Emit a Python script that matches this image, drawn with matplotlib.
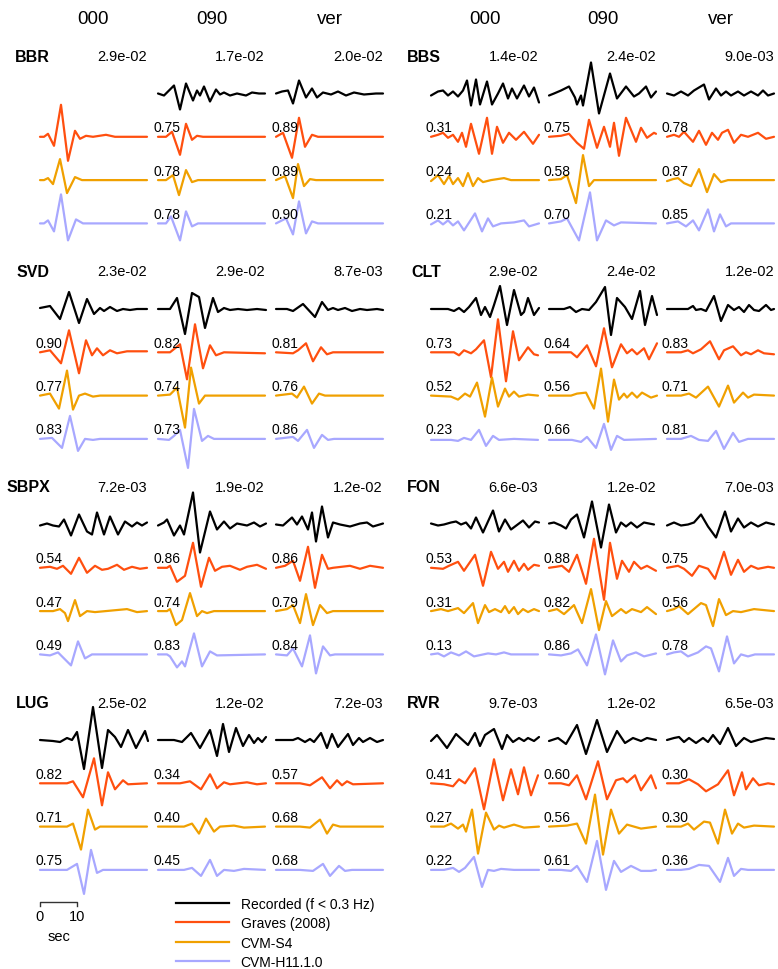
import matplotlib
matplotlib.use('Agg')
import matplotlib.pyplot as plt
from matplotlib.lines import Line2D

plt.rcParams['font.family'] = ['Liberation Sans', 'DejaVu Sans']

DT = 10 / 37.0
NSAMP = 107

COMPONENTS = ['000', '090', 'ver']
MODELS = ['Recorded (f < 0.3 Hz)', 'Graves (2008)', 'CVM-S4', 'CVM-H11.1.0']
COLORS = ['#000000', '#ff4f0f', '#f0a000', '#a8a8ff']

STATIONS = ['BBR', 'BBS', 'SVD', 'CLT', 'SBPX', 'FON', 'LUG', 'RVR']

# peak amplitude of recorded trace per component (000, 090, ver)
PEAKS = {
    'BBR': [2.9e-02, 1.7e-02, 2.0e-02],
    'BBS': [1.4e-02, 2.4e-02, 9.0e-03],
    'SVD': [2.3e-02, 2.9e-02, 8.7e-03],
    'CLT': [2.9e-02, 2.4e-02, 1.2e-02],
    'SBPX': [7.2e-03, 1.9e-02, 1.2e-02],
    'FON': [6.6e-03, 1.2e-02, 7.0e-03],
    'LUG': [2.5e-02, 1.2e-02, 7.2e-03],
    'RVR': [9.7e-03, 1.2e-02, 6.5e-03],
}

# correlation with the record: per component, [Graves, CVM-S4, CVM-H]
CORR = {
    'BBR': [None, [0.75, 0.78, 0.78], [0.89, 0.89, 0.90]],
    'BBS': [[0.31, 0.24, 0.21], [0.75, 0.58, 0.70], [0.78, 0.87, 0.85]],
    'SVD': [[0.90, 0.77, 0.83], [0.82, 0.74, 0.73], [0.81, 0.76, 0.86]],
    'CLT': [[0.73, 0.52, 0.23], [0.64, 0.56, 0.66], [0.83, 0.71, 0.81]],
    'SBPX': [[0.54, 0.47, 0.49], [0.86, 0.74, 0.83], [0.86, 0.79, 0.84]],
    'FON': [[0.53, 0.31, 0.13], [0.88, 0.82, 0.86], [0.75, 0.56, 0.78]],
    'LUG': [[0.82, 0.71, 0.75], [0.34, 0.40, 0.45], [0.57, 0.68, 0.68]],
    'RVR': [[0.41, 0.27, 0.22], [0.60, 0.56, 0.61], [0.30, 0.30, 0.36]],
}

# digitised waveforms: (sample index, scaled amplitude) turning points
# order in each list: recorded, Graves, CVM-S4, CVM-H
BBR_000 = [
    None,
    [(0,0),(4,0),(8,3),(14,-9),(21,32),(28,-24),(35,6),(40,-2),(46,1),(53,0),(66,2),(75,0),(107,0)],
    [(0,0),(4,0),(8,2),(13,-4),(20,21),(27,-13),(35,3),(42,0),(107,0)],
    [(0,0),(4,0),(8,3),(14,-8),(21,29),(28,-17),(36,4),(43,0),(107,0)],
]
BBR_090 = [
    [(0,0),(6,-2),(11,3),(16,8),(22,-16),(28,10),(35,-7),(39,3),(42,-2),(46,7),(52,-8),(58,4),(62,-1),(66,1),(72,-2),(79,0),(88,-2),(94,1),(101,0),(107,0)],
    [(0,0),(8,0),(14,5),(22,-18),(28,13),(34,-3),(39,1),(45,0),(107,0)],
    [(0,0),(8,0),(15,5),(21,-15),(28,10),(34,-2),(40,0),(107,0)],
    [(0,0),(8,0),(13,7),(22,-17),(28,12),(34,-3),(40,0),(107,0)],
]
BBR_VER = [
    [(0,0),(6,2),(12,3),(17,-10),(23,13),(30,-4),(36,5),(41,-4),(47,1),(55,-1),(62,2),(70,-2),(78,1),(88,-1),(100,0),(107,0)],
    [(0,0),(7,4),(16,-21),(23,19),(29,-10),(36,2),(42,0),(107,0)],
    [(0,0),(9,4),(17,-18),(22,16),(28,-6),(34,1),(40,0),(107,0)],
    [(0,0),(10,5),(17,-11),(23,22),(30,-10),(36,2),(42,0),(107,0)],
]

BBS_000 = [
    [(0,-2),(7,2),(12,3),(17,-2),(22,2),(27,-3),(32,3),(36,13),(40,-12),(45,14),(49,-11),(56,12),(61,-11),(67,0),(72,10),(77,-5),(81,5),(86,-5),(93,8),(98,-3),(103,6),(108,-9)],
    [(0,0),(7,2),(12,4),(17,-1),(22,2),(27,-5),(31,4),(35,-10),(40,13),(48,-17),(56,19),(61,-17),(66,10),(72,-6),(78,4),(85,-3),(93,5),(102,-7),(108,2)],
    [(0,-1),(7,5),(13,-4),(18,4),(22,-4),(27,2),(32,-6),(37,7),(42,-6),(47,2),(52,-2),(60,0),(73,2),(80,0),(108,0)],
    [(0,-1),(7,3),(12,-1),(17,3),(22,-2),(27,2),(33,-7),(44,10),(51,-8),(57,5),(62,-3),(70,0),(83,1),(93,3),(98,-3),(108,0)],
]
BBS_090 = [
    [(0,-2),(5,0),(12,3),(20,7),(26,-4),(28,-11),(32,-2),(34,-12),(42,31),(50,-20),(61,20),(68,-5),(77,7),(85,-3),(90,0),(97,7),(102,-4),(107,2)],
    [(0,0),(12,1),(20,3),(28,-6),(35,-12),(40,17),(48,-11),(55,10),(61,-10),(65,14),(70,-19),(77,19),(87,-5),(92,9),(98,-1),(105,4),(107,3)],
    [(0,0),(12,1),(18,5),(27,-23),(34,25),(40,-6),(45,0),(107,0)],
    [(0,0),(12,2),(18,5),(30,-17),(41,31),(48,-17),(57,3),(65,-2),(72,1),(107,0)],
]
BBS_VER = [
    [(0,0),(7,-2),(14,2),(21,-2),(27,3),(37,9),(42,-6),(49,5),(54,-2),(59,2),(64,-2),(71,2),(77,-2),(84,2),(91,-2),(96,3),(101,-2),(107,0)],
    [(0,0),(7,2),(12,0),(17,5),(26,-5),(32,6),(39,-8),(45,4),(51,-3),(55,4),(61,7),(67,-6),(74,2),(81,0),(91,4),(99,-2),(107,0)],
    [(0,-1),(6,1),(11,2),(17,-3),(24,-6),(32,11),(40,-12),(47,6),(54,-2),(61,0),(107,0)],
    [(0,0),(11,2),(19,-3),(26,3),(32,-7),(41,14),(47,-8),(53,9),(59,-3),(64,0),(107,0)],
]

SVD_000 = [
    [(0,1),(10,3),(20,-10),(29,17),(39,-14),(47,10),(54,-5),(60,1),(64,-2),(70,2),(77,-2),(83,0),(90,-1),(97,0),(107,0)],
    [(0,0),(10,2),(21,-11),(29,22),(39,-21),(46,12),(52,-3),(57,4),(63,-3),(70,2),(77,-1),(87,1),(107,1)],
    [(0,0),(10,2),(19,-13),(27,25),(33,-14),(39,0),(45,2),(53,-1),(60,0),(107,0)],
    [(0,0),(12,1),(22,-9),(30,23),(38,-12),(45,0),(53,-1),(60,0),(107,0)],
]
SVD_090 = [
    [(0,0),(6,0),(12,0),(19,11),(27,-25),(34,16),(41,12),(47,-19),(55,11),(60,-3),(66,1),(72,-1),(80,0),(89,-1),(99,0),(108,-1)],
    [(0,0),(12,0),(22,8),(29,-27),(37,28),(45,-16),(52,7),(58,-3),(66,0),(107,-1)],
    [(0,0),(12,1),(19,8),(27,-32),(33,28),(41,-8),(47,0),(107,0)],
    [(0,0),(11,-1),(16,3),(22,9),(30,-29),(36,30),(44,-2),(50,3),(56,0),(107,0)],
]
SVD_VER = [
    [(0,0),(11,0),(17,-2),(27,5),(39,-8),(46,7),(52,-1),(57,1),(62,-1),(69,1),(76,-2),(84,0),(91,-1),(101,0),(107,-1)],
    [(0,0),(17,-1),(22,2),(30,9),(37,-9),(45,5),(51,-2),(57,0),(107,0)],
    [(0,0),(16,2),(21,-2),(28,9),(36,-8),(43,2),(49,0),(107,0)],
    [(0,0),(17,2),(22,-2),(31,9),(38,-9),(46,4),(52,-1),(58,0),(107,0)],
]

CLT_000 = [
    [(0,0),(17,0),(23,-2),(28,1),(33,-3),(38,2),(45,11),(50,-6),(54,2),(59,-8),(63,4),(69,23),(76,-16),(83,19),(90,-6),(93,-3),(97,11),(103,-6),(108,1)],
    [(0,0),(23,0),(28,-3),(33,2),(40,-1),(45,3),(53,12),(60,-25),(67,33),(75,-29),(82,21),(88,-8),(97,5),(103,-2),(107,-3)],
    [(0,0),(20,-1),(27,-4),(34,2),(39,-1),(46,13),(54,-21),(61,18),(67,-11),(74,7),(78,-1),(83,4),(88,-1),(97,1),(107,0)],
    [(0,-1),(20,-1),(27,-2),(33,1),(40,-1),(48,9),(55,-7),(62,3),(68,-1),(83,0),(107,-1)],
]
CLT_090 = [
    [(0,0),(15,0),(21,2),(27,-3),(33,0),(40,-1),(47,7),(56,22),(62,-26),(68,11),(76,2),(83,-10),(91,18),(96,-16),(103,13),(108,-6)],
    [(0,0),(22,0),(28,-5),(38,7),(47,-14),(55,24),(63,-15),(72,8),(78,-1),(83,3),(88,-2),(95,4),(100,-7),(108,9)],
    [(0,0),(22,0),(28,2),(37,3),(45,-13),(52,27),(59,-26),(65,16),(70,-4),(75,2),(78,-2),(83,3),(88,-2),(93,3),(102,-2),(108,0)],
    [(0,-1),(23,-1),(32,-3),(38,2),(47,-9),(55,15),(62,-11),(68,3),(75,-1),(107,0)],
]
CLT_VER = [
    [(0,0),(14,0),(21,0),(26,3),(29,-1),(34,0),(39,-2),(47,13),(54,-12),(61,4),(67,-1),(72,2),(77,-3),(82,4),(87,-1),(92,-2),(99,4),(104,-1),(107,0)],
    [(0,0),(14,0),(21,2),(26,-1),(34,3),(43,11),(52,-7),(57,2),(66,6),(74,-3),(79,0),(84,-2),(91,2),(97,-1),(107,-2)],
    [(0,0),(14,0),(22,2),(29,-2),(41,9),(52,-11),(61,10),(67,-7),(76,3),(81,-2),(87,1),(107,0)],
    [(0,0),(14,0),(24,3),(32,-1),(41,-2),(49,8),(57,-10),(66,6),(72,-3),(81,0),(107,0)],
]

SBPX_000 = [
    [(0,-1),(7,1),(13,-1),(19,-2),(24,5),(31,-11),(39,10),(47,-7),(52,-10),(57,12),(64,-10),(70,8),(78,-10),(85,3),(92,-2),(97,2),(102,-1),(107,2)],
    [(0,0),(10,1),(17,-1),(23,2),(31,-6),(39,10),(47,-5),(55,2),(62,-2),(68,-1),(77,3),(84,-2),(92,1),(100,-1),(107,0)],
    [(0,0),(13,0),(20,2),(25,-2),(28,-10),(35,11),(40,-5),(47,0),(55,-1),(87,2),(97,-1),(107,0)],
    [(0,0),(10,-1),(18,2),(23,-3),(31,-11),(38,13),(45,-4),(52,0),(107,0)],
]
SBPX_090 = [
    [(0,-1),(6,2),(9,5),(16,-11),(22,-1),(26,-10),(35,32),(42,-28),(52,13),(59,-5),(66,3),(72,-4),(79,1),(89,-1),(96,2),(102,-2),(108,1)],
    [(0,0),(9,0),(12,2),(19,-14),(27,-8),(35,25),(43,-19),(51,10),(57,-3),(64,1),(72,2),(82,-2),(89,1),(99,3),(108,-1)],
    [(0,0),(9,0),(12,2),(18,-14),(24,-9),(32,18),(39,-5),(44,0),(49,-2),(56,0),(107,0)],
    [(0,0),(9,0),(12,-2),(19,-13),(24,-7),(27,-12),(36,21),(44,-12),(52,3),(59,-1),(107,0)],
]
SBPX_VER = [
    [(0,0),(7,-1),(16,7),(21,0),(26,8),(32,-5),(36,12),(40,-17),(46,18),(52,-13),(57,2),(64,0),(74,-2),(84,1),(91,2),(97,-2),(107,1)],
    [(0,0),(9,2),(17,7),(24,-13),(32,21),(39,-20),(46,13),(52,-1),(57,0),(74,2),(84,-1),(94,2),(107,0)],
    [(0,0),(11,2),(17,6),(24,-12),(30,17),(37,-14),(44,6),(51,-2),(57,0),(107,0)],
    [(0,0),(11,-1),(17,6),(26,-12),(34,19),(40,-19),(47,8),(54,-1),(59,0),(107,0)],
]

FON_000 = [
    [(0,1),(7,-1),(13,0),(20,2),(25,3),(30,0),(35,2),(40,-4),(45,7),(52,-8),(62,14),(68,-7),(74,5),(80,-5),(92,4),(98,-3),(104,3),(108,2)],
    [(0,0),(12,-1),(18,2),(27,6),(33,-3),(44,13),(52,-18),(60,16),(67,-1),(73,6),(77,-4),(83,7),(88,-3),(93,4),(97,-2),(103,3),(108,2)],
    [(0,0),(10,2),(17,0),(27,3),(33,-2),(42,8),(47,-12),(54,6),(58,-1),(64,2),(70,-1),(74,5),(78,-2),(83,4),(87,-3),(92,2),(97,-1),(103,2),(108,0)],
    [(0,0),(7,1),(13,-2),(20,2),(28,-1),(35,3),(43,-2),(57,1),(65,0),(73,2),(80,0),(107,0)],
]
FON_090 = [
    [(0,1),(5,2),(12,-1),(17,-4),(22,5),(28,10),(35,-13),(43,23),(52,-23),(60,20),(67,-8),(72,2),(77,-2),(82,2),(88,-3),(95,2),(105,0)],
    [(0,0),(7,1),(13,2),(20,-4),(28,13),(37,-16),(45,29),(55,-32),(61,25),(68,-11),(73,7),(80,-4),(85,6),(92,-1),(98,2),(107,-3)],
    [(0,0),(8,2),(15,-3),(25,6),(33,-12),(42,22),(50,-19),(57,10),(63,-5),(72,2),(77,-2),(83,2),(92,-1),(98,4),(107,-3)],
    [(0,0),(12,-1),(22,1),(29,5),(38,-11),(47,20),(56,-20),(64,14),(72,-7),(78,-1),(87,2),(95,-2),(107,1)],
]
FON_VER = [
    [(0,-1),(7,2),(14,-1),(21,0),(27,2),(34,10),(41,-2),(49,-13),(58,13),(64,-7),(71,6),(77,-3),(84,2),(91,-2),(99,2),(107,0)],
    [(0,0),(11,2),(17,-1),(25,-8),(32,2),(41,-1),(48,-11),(57,16),(64,-7),(71,8),(77,-4),(84,2),(91,-1),(101,1),(107,0)],
    [(0,0),(7,2),(12,5),(21,-3),(34,8),(39,6),(46,-15),(52,12),(59,-4),(66,0),(74,-1),(87,2),(107,0)],
    [(0,0),(7,2),(14,3),(21,-2),(31,2),(39,8),(44,6),(52,-17),(60,18),(67,-9),(74,0),(81,-2),(88,0),(107,0)],
]

LUG_000 = [
    [(0,0),(13,-1),(20,-2),(27,2),(32,0),(37,8),(44,-29),(53,33),(62,-28),(68,10),(75,3),(81,-7),(88,10),(96,-8),(105,9),(108,-1)],
    [(0,0),(27,0),(33,2),(43,-14),(54,25),(62,-22),(68,11),(75,-6),(83,3),(88,-1),(107,0)],
    [(0,0),(27,0),(33,3),(41,-23),(48,17),(55,-3),(60,0),(107,0)],
    [(0,0),(27,0),(37,6),(44,-24),(51,20),(57,-3),(63,0),(107,0)],
]
LUG_090 = [
    [(0,0),(16,0),(24,-2),(33,7),(42,-8),(52,10),(59,-16),(65,16),(71,-12),(78,12),(85,-6),(91,5),(96,-3),(100,2),(104,-2),(108,3)],
    [(0,0),(22,0),(32,2),(43,-6),(52,9),(59,-5),(66,1),(72,-1),(89,1),(99,-1),(108,0)],
    [(0,0),(26,0),(34,3),(41,-7),(48,8),(56,-5),(62,0),(76,1),(86,-1),(107,0)],
    [(0,0),(26,0),(34,2),(43,-6),(52,10),(59,-6),(66,0),(76,-1),(86,1),(107,0)],
]
LUG_VER = [
    [(0,0),(17,0),(22,2),(29,-2),(34,1),(38,-2),(45,7),(51,-8),(56,6),(62,-7),(72,6),(77,-5),(83,2),(87,-2),(94,2),(101,-2),(107,0)],
    [(0,0),(24,0),(34,-2),(46,6),(54,-5),(61,3),(66,-2),(71,2),(77,-1),(107,0)],
    [(0,0),(24,0),(34,-1),(44,7),(51,-7),(57,2),(64,0),(107,0)],
    [(0,0),(24,0),(37,-1),(47,6),(54,-6),(63,4),(69,-1),(76,0),(107,0)],
]

RVR_000 = [
    [(0,-1),(6,5),(16,-8),(25,6),(37,-5),(44,7),(49,-6),(54,5),(63,11),(71,-9),(76,5),(82,-2),(88,2),(93,-1),(97,2),(103,-1),(108,3)],
    [(0,0),(13,-1),(22,-3),(28,4),(34,0),(44,15),(53,-26),(63,24),(72,-17),(80,14),(87,-11),(93,16),(100,-12),(107,8)],
    [(0,0),(13,0),(20,3),(27,-2),(32,2),(35,-5),(41,17),(47,-27),(55,14),(63,-3),(68,1),(73,-1),(83,2),(93,-1),(108,0)],
    [(0,0),(13,0),(22,2),(28,-2),(34,2),(43,13),(51,-17),(57,0),(63,-1),(70,1),(83,0),(108,0)],
]
RVR_090 = [
    [(0,-1),(9,2),(17,-4),(28,15),(37,-14),(48,20),(58,-12),(68,9),(76,-3),(84,2),(92,-1),(98,2),(107,0)],
    [(0,0),(12,0),(20,-2),(28,8),(37,-16),(49,22),(58,-16),(67,3),(74,5),(78,1),(86,8),(92,-7),(102,8),(107,-5)],
    [(0,0),(18,1),(28,3),(37,-17),(46,32),(54,-28),(62,17),(70,-7),(78,2),(92,-2),(107,0)],
    [(0,0),(12,0),(22,-1),(28,4),(38,-12),(48,29),(57,-20),(65,9),(72,-2),(82,4),(92,-1),(102,-1),(107,0)],
]
RVR_VER = [
    [(0,0),(7,2),(12,3),(17,-2),(22,2),(29,-3),(36,2),(41,-2),(46,5),(53,-4),(61,12),(69,-6),(77,2),(84,-2),(91,0),(99,2),(107,1)],
    [(0,0),(12,0),(22,4),(31,-1),(39,-8),(51,-1),(61,13),(67,-12),(75,11),(79,-6),(86,5),(92,-2),(101,0),(107,-1)],
    [(0,0),(14,0),(21,3),(27,-3),(37,5),(43,4),(51,-17),(58,17),(65,-7),(71,3),(77,-1),(87,1),(107,0)],
    [(0,0),(14,0),(22,1),(32,5),(42,4),(53,-12),(61,12),(67,-6),(74,1),(81,0),(107,0)],
]

WAVES = {
    'BBR': [BBR_000, BBR_090, BBR_VER],
    'BBS': [BBS_000, BBS_090, BBS_VER],
    'SVD': [SVD_000, SVD_090, SVD_VER],
    'CLT': [CLT_000, CLT_090, CLT_VER],
    'SBPX': [SBPX_000, SBPX_090, SBPX_VER],
    'FON': [FON_000, FON_090, FON_VER],
    'LUG': [LUG_000, LUG_090, LUG_VER],
    'RVR': [RVR_000, RVR_090, RVR_VER],
}

# page layout (pixels)
W, H = 778.0, 970.0
BLOCK_X = [40, 431]
COL_STEP = 118
ROW0 = 94.5
ROW_STEP = 215.5
GAP = 43.3
PAD = 45


def add_panel(fig, left, top, width, height):
    return fig.add_axes([left / W, 1 - (top + height) / H, width / W, height / H])


fig = plt.figure(figsize=(W / 100, H / 100), dpi=100)

for i, name in enumerate(STATIONS):
    row, blk = i // 2, i % 2
    base = ROW0 + row * ROW_STEP
    for c in range(3):
        x0 = BLOCK_X[blk] + c * COL_STEP
        ax = add_panel(fig, x0, base - PAD, NSAMP, 3 * GAP + 2 * PAD)
        ax.set_xlim(0, NSAMP * DT)
        ax.set_ylim(-(3 * GAP + PAD), PAD)
        ax.axis('off')

        for k, tr in enumerate(WAVES[name][c]):
            if tr is None:
                continue
            t = [p[0] * DT for p in tr]
            a = [p[1] - k * GAP for p in tr]
            ax.plot(t, a, color=COLORS[k], lw=1.6, clip_on=False,
                    solid_joinstyle='round', solid_capstyle='round')

        cc = CORR[name][c]
        if cc is not None:
            for k, v in enumerate(cc):
                ax.text(-5 * DT, -(k + 1) * GAP + 9.5, '%.2f' % v, fontsize=10,
                        ha='left', va='center')

        ax.text(NSAMP * DT, 37.5, '%.1e' % PEAKS[name][c], fontsize=10.5,
                ha='right', va='center')
        if c == 0:
            ax.text(10 * DT, 37.5, name, fontsize=11.5, fontweight='bold',
                    ha='right', va='center')
        if row == 0:
            fig.text((x0 + NSAMP / 2) / W, 1 - 19 / H, COMPONENTS[c],
                     fontsize=13.5, ha='center', va='center')

        # scale bar under LUG 000
        if name == 'LUG' and c == 0:
            yb = -(903 - base)
            ax.plot([0, 0, 10, 10], [yb - 4, yb, yb, yb - 4], color='#333333',
                    lw=1.0, clip_on=False)
            ax.text(0, yb - 14, '0', fontsize=10.5, ha='center', va='center')
            ax.text(10, yb - 14, '10', fontsize=10.5, ha='center', va='center')
            ax.text(5, yb - 34, 'sec', fontsize=10.5, ha='center', va='center')

handles = [Line2D([], [], color=col, lw=1.6) for col in COLORS]
fig.legend(handles, MODELS, loc='upper left', bbox_to_anchor=(176 / W, 1 - 898 / H),
           frameon=False, fontsize=10, handlelength=3.8, handletextpad=0.85,
           labelspacing=0.38, borderpad=0, borderaxespad=0)

fig.savefig('out.png', dpi=100)
